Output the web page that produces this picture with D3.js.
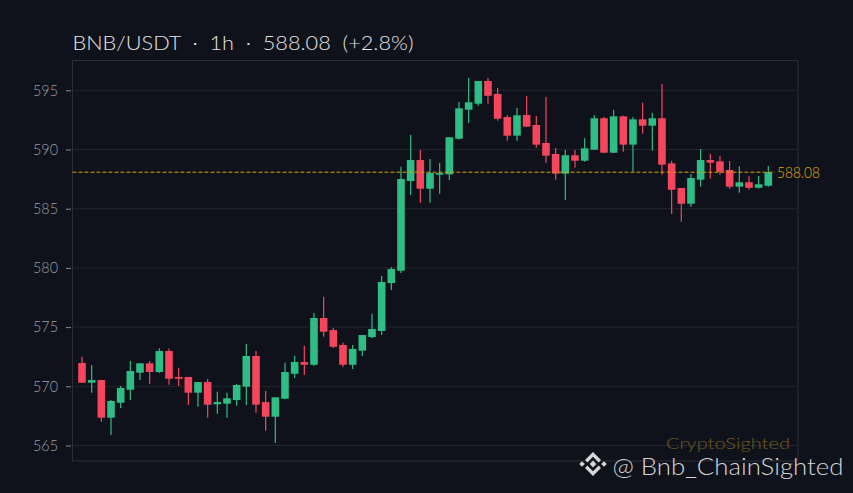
<!DOCTYPE html>
<html><head><meta charset="utf-8">
<script src="https://cdn.jsdelivr.net/npm/d3@7"></script>
<style>
html,body{margin:0;padding:0;background:#0f121a;}
svg{display:block;}
text{font-family:"Lato","Noto Sans",sans-serif;}
</style></head>
<body>
<svg id="chart" width="853" height="493"></svg>
<script>
const openV  = [571.97,570.30,570.53,567.35,568.61,569.71,571.15,571.94,571.21,572.98,570.79,570.79,569.46,570.36,568.48,568.53,568.84,569.97,572.56,568.67,567.43,568.95,571.06,572.05,571.82,575.77,574.75,573.49,571.82,573.01,574.16,574.67,578.72,579.76,587.34,589.11,586.69,587.87,587.90,590.91,593.36,593.87,595.79,594.69,592.74,591.17,592.91,592.07,590.55,589.62,587.96,589.51,589.05,589.98,592.64,589.73,592.80,590.41,592.55,592.01,592.64,588.83,586.75,585.42,587.45,589.11,589.00,588.27,586.86,587.23,586.77,586.94];
const highV  = [572.50,571.80,570.55,568.84,570.03,572.14,571.95,572.14,573.21,573.20,571.57,570.79,570.36,570.62,569.54,569.46,570.19,573.57,572.98,569.60,569.07,571.99,572.58,573.43,576.19,577.57,574.92,573.68,573.49,574.33,576.13,579.32,580.05,588.55,591.22,589.96,589.20,588.86,591.03,594.01,596.04,595.79,596.04,595.19,592.91,593.53,594.52,592.83,594.43,590.13,589.96,589.96,590.95,592.91,592.75,593.34,592.85,592.75,593.95,593.11,595.53,589.05,586.75,587.93,590.04,589.65,589.45,589.03,588.58,587.74,587.76,588.60];
const lowV   = [570.30,569.46,567.01,565.89,568.17,568.84,570.53,570.22,571.12,570.14,570.03,568.42,568.28,567.35,567.69,567.35,568.36,568.42,567.77,566.25,565.24,568.90,570.70,570.95,571.71,574.19,573.23,571.66,571.46,572.56,574.05,574.33,578.13,579.57,586.16,585.51,585.51,586.27,587.42,590.85,592.24,593.70,593.87,592.43,590.74,590.74,591.93,590.15,588.89,587.45,585.73,588.46,588.97,589.95,589.68,589.70,589.81,588.12,591.33,589.90,587.87,584.55,583.90,585.17,586.86,587.53,587.87,586.69,586.35,586.60,586.70,586.86];
const closeV = [570.30,570.53,567.35,568.76,569.86,571.29,571.94,571.21,572.98,570.64,570.64,569.46,570.36,568.45,568.67,568.99,570.11,572.56,568.45,567.43,569.07,571.21,572.05,571.82,575.77,574.61,573.34,571.82,573.15,574.33,574.84,578.81,579.91,587.51,589.11,586.69,588.01,588.01,591.03,593.48,593.99,595.79,594.54,592.60,591.17,592.89,591.93,590.41,589.48,587.96,589.51,589.05,590.10,592.64,589.73,592.80,590.41,592.55,592.01,592.64,588.72,586.60,585.42,587.59,589.11,588.89,588.12,586.86,587.23,586.77,587.06,588.08];
const yTicks = [565,570,575,580,585,590,595];
const lastPrice = 588.08;
const titleText = "BNB/USDT  \u00b7  1h  \u00b7  588.08  (+2.8%)";
const watermark1 = "CryptoSighted";
const watermark2 = "@ Bnb_ChainSighted";

const svg = d3.select("#chart");
const W = 853, H = 493;
const frame = {l:72.5, r:798, t:60.5, b:461};
svg.append("rect").attr("width",W).attr("height",H).attr("fill","#0f121a");

const x = d3.scaleLinear().domain([0, openV.length-1]).range([82, 768.3]);
const y = d3.scaleLinear().domain([565, 595]).range([445.5, 90.3]);

// grid
svg.append("g").selectAll("line").data(yTicks).join("line")
  .attr("x1",frame.l).attr("x2",frame.r)
  .attr("y1",d=>y(d)).attr("y2",d=>y(d))
  .attr("stroke","#22262e").attr("stroke-width",1);

// frame
svg.append("rect").attr("x",frame.l).attr("y",frame.t)
  .attr("width",frame.r-frame.l).attr("height",frame.b-frame.t)
  .attr("fill","none").attr("stroke","#2a2e36").attr("stroke-width",1);

// y axis
const yAxis = d3.axisLeft(y).tickValues(yTicks).tickSize(5).tickPadding(8).tickFormat(d3.format("d"));
const ga = svg.append("g").attr("transform",`translate(${frame.l-1.5},0)`).call(yAxis);
ga.select(".domain").remove();
ga.selectAll(".tick line").attr("stroke","#8a8d93");
ga.selectAll(".tick text").attr("fill","#9c9fa5").attr("font-size",15).attr("font-family","Lato, sans-serif")
  .attr("font-weight",300).attr("textLength",25).attr("lengthAdjust","spacingAndGlyphs");

// candles
const data = openV.map((o,i)=>({i,o,h:highV[i],l:lowV[i],c:closeV[i]}));
const green = "#2ebd85", red = "#f6465d";
const bw = 7.6;
const g = svg.append("g");
g.selectAll("line.wick").data(data).join("line").attr("class","wick")
  .attr("x1",d=>x(d.i)).attr("x2",d=>x(d.i))
  .attr("y1",d=>y(d.h)).attr("y2",d=>y(d.l))
  .attr("stroke",d=>d.c>=d.o?green:red).attr("stroke-width",1.2);
g.selectAll("rect.body").data(data).join("rect").attr("class","body")
  .attr("x",d=>x(d.i)-bw/2).attr("width",bw)
  .attr("y",d=>y(Math.max(d.o,d.c)))
  .attr("height",d=>Math.max(1.5, Math.abs(y(d.o)-y(d.c))))
  .attr("fill",d=>d.c>=d.o?green:red);

// last price line
svg.append("line").attr("x1",frame.l).attr("x2",775)
  .attr("y1",y(lastPrice)).attr("y2",y(lastPrice))
  .attr("stroke","#d4a20c").attr("stroke-width",1).attr("stroke-dasharray","4,2");
svg.append("text").attr("x",777).attr("y",y(lastPrice)).attr("dy","0.36em")
  .attr("fill","#e0aa0e").attr("font-size",15).attr("font-weight",300).attr("textLength",43).attr("lengthAdjust","spacingAndGlyphs")
  .text(lastPrice.toFixed(2));

// title
svg.append("text").attr("x",72.5).attr("y",49.5).attr("fill","#e4e4e6")
  .attr("font-size",20.5).attr("font-weight",300).attr("xml:space","preserve").style("white-space","pre")
  .attr("textLength",341).attr("lengthAdjust","spacingAndGlyphs").text(titleText);

// watermarks
svg.append("text").attr("x",666).attr("y",448.5).attr("font-weight",300)
  .attr("fill","#6f5c1f").attr("font-size",16.5).attr("textLength",124).attr("lengthAdjust","spacingAndGlyphs").text(watermark1);
svg.append("text").attr("x",612.5).attr("y",475).attr("font-weight",300)
  .attr("fill","#d6d6d8").attr("font-size",22.5).attr("textLength",231).attr("lengthAdjust","spacingAndGlyphs").text(watermark2);

// binance-like icon
const ic = svg.append("g").attr("transform","translate(593,464)").attr("fill","#d6d6d8");
const dia = (cx,cy,r)=>`M${cx},${cy-r}L${cx+r},${cy}L${cx},${cy+r}L${cx-r},${cy}Z`;
ic.append("path").attr("d",dia(0,0,3.4));
ic.append("path").attr("d",dia(-11,0,2.8));
ic.append("path").attr("d",dia(11,0,2.8));
ic.append("path").attr("d","M0,-12L8,-4L5.6,-1.6L0,-7.2L-5.6,-1.6L-8,-4Z");
ic.append("path").attr("d","M0,12L8,4L5.6,1.6L0,7.2L-5.6,1.6L-8,4Z");
</script>
</body></html>
